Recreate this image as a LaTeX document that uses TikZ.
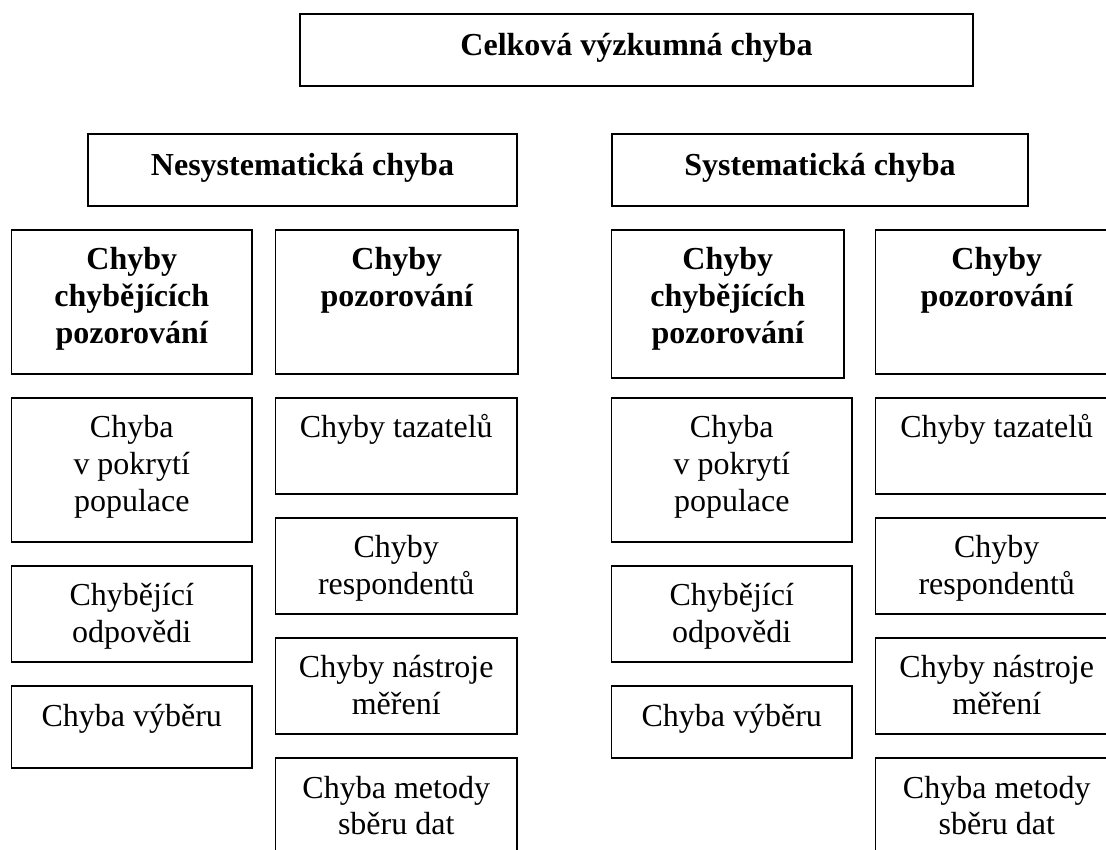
\documentclass[tikz,border=0pt]{standalone}
\usepackage{fontspec}
\setmainfont{Liberation Serif}
\tikzset{
  ebx/.style={draw=black, line width=1.5pt, rectangle, inner sep=0pt, outer sep=0pt, anchor=north west},
  etx/.style={inner sep=0pt, outer sep=0pt, anchor=north, align=center, font=\fontsize{32}{36.7}\selectfont},
  etb/.style={font=\fontsize{32}{36.7}\selectfont\bfseries},
}
\newcommand{\ebox}[7]{%
  \node[ebx, minimum width={#4-#2}, minimum height={#5-#3}] (#1) at (#2,#3) {};
  \node[etx, #6] (#1t) at ([yshift=-14.3pt]#1.north) {\strut #7};
}
\begin{document}
\begin{tikzpicture}[x=1pt,y=-1pt]
\useasboundingbox (0,0) rectangle (1106,849);
\begin{scope}
\clip (0,0) rectangle (1106,849);
\ebox{top}{300}{14}{973}{86}{etb,yshift=-1.5pt}{Celková výzkumná chyba}
\ebox{nes}{88}{134}{517}{206}{etb,yshift=-1.5pt}{Nesystematická chyba}
\ebox{sys}{612}{134}{1028}{206}{etb,yshift=-1.5pt}{Systematická chyba}
% column 1
\ebox{nha}{11.5}{230}{252}{374}{etb}{Chyby\\chybějících\\pozorování}
\ebox{naa}{11.5}{398}{252}{542}{}{Chyba\\v pokrytí\\populace}
\ebox{nab}{11.5}{566}{252}{662}{}{Chybějící\\odpovědi}
\ebox{nac}{11.5}{686}{252}{768}{}{Chyba výběru}
% column 2
\ebox{nhb}{275.5}{230}{518}{374}{etb}{Chyby\\pozorování}
\ebox{nba}{275.5}{398}{517}{494}{}{Chyby tazatelů}
\ebox{nbb}{275.5}{518}{517}{614}{}{Chyby\\respondentů}
\ebox{nbc}{275.5}{638}{517}{734}{}{Chyby nástroje\\měření}
\ebox{nbd}{275.5}{758}{517}{880}{}{Chyba metody\\sběru dat}
% column 3
\ebox{sha}{611.5}{230}{844}{378}{etb}{Chyby\\chybějících\\pozorování}
\ebox{saa}{611.5}{398}{852}{542}{}{Chyba\\v pokrytí\\populace}
\ebox{sab}{611.5}{566}{852}{662}{}{Chybějící\\odpovědi}
\ebox{sac}{611.5}{686}{852}{758}{}{Chyba výběru}
% column 4
\ebox{shb}{875.5}{230}{1118}{374}{etb}{Chyby\\pozorování}
\ebox{sba}{875.5}{398}{1118}{494}{}{Chyby tazatelů}
\ebox{sbb}{875.5}{518}{1118}{614}{}{Chyby\\respondentů}
\ebox{sbc}{875.5}{638}{1118}{734}{}{Chyby nástroje\\měření}
\ebox{sbd}{875.5}{758}{1118}{880}{}{Chyba metody\\sběru dat}
\end{scope}
\end{tikzpicture}
\end{document}
